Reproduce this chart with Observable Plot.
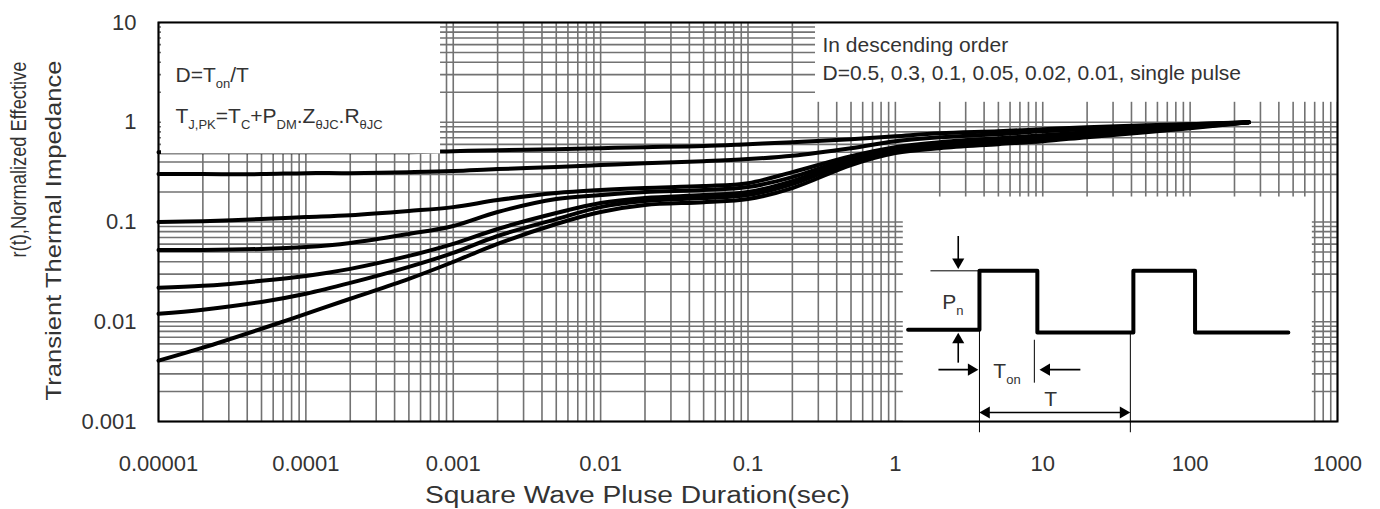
<!DOCTYPE html>
<html><head><meta charset="utf-8">
<script src="https://cdn.jsdelivr.net/npm/d3@7"></script>
<script src="https://cdn.jsdelivr.net/npm/@observablehq/plot@0.6"></script>
<style>
body{margin:0;background:#fff;}
#chart svg{display:block;}
</style></head><body><div id="chart"></div>
<script>
// ---------- data ----------
const durations = [1e-5,2e-5,5e-5,1e-4,2e-4,5e-4,1e-3,2e-3,5e-3,1e-2,2e-2,5e-2,0.1,0.2,0.5,1,2,5,10,20,50,100,250];
const dutyLabels = ["0.5","0.3","0.1","0.05","0.02","0.01","single pulse"];
const rD050 = [0.501,0.501,0.501,0.501,0.501,0.501,0.513,0.525,0.537,0.550,0.562,0.578,0.603,0.631,0.676,0.724,0.776,0.813,0.851,0.891,0.933,0.955,1.0];
const rD030 = [0.302,0.302,0.302,0.309,0.309,0.316,0.324,0.339,0.355,0.372,0.389,0.407,0.427,0.462,0.550,0.646,0.708,0.759,0.813,0.851,0.912,0.955,1.0];
const rD010 = [0.100,0.102,0.107,0.112,0.117,0.129,0.141,0.166,0.195,0.209,0.219,0.229,0.245,0.316,0.457,0.562,0.631,0.692,0.741,0.794,0.871,0.933,1.0];
const rD005 = [0.0525,0.0525,0.0537,0.0562,0.0617,0.0759,0.0912,0.126,0.170,0.186,0.200,0.209,0.224,0.282,0.437,0.550,0.603,0.676,0.724,0.776,0.851,0.912,1.0];
const rD002 = [0.0219,0.0229,0.0257,0.0288,0.0339,0.0457,0.0603,0.0851,0.123,0.155,0.174,0.186,0.200,0.257,0.417,0.525,0.589,0.646,0.708,0.759,0.832,0.891,1.0];
const rD001 = [0.0120,0.0132,0.0158,0.0191,0.0245,0.0355,0.0490,0.0724,0.107,0.141,0.162,0.174,0.186,0.240,0.398,0.513,0.575,0.631,0.676,0.741,0.813,0.891,1.0];
const rSingle = [0.00407,0.00550,0.00851,0.0120,0.0170,0.0269,0.0398,0.0603,0.0955,0.126,0.148,0.158,0.170,0.219,0.372,0.490,0.550,0.603,0.646,0.708,0.794,0.871,1.0];

const xTicks = [1e-5,1e-4,1e-3,1e-2,1e-1,1,10,100,1000];
const xTickLabels = ["0.00001","0.0001","0.001","0.01","0.1","1","10","100","1000"];
const yTicks = [0.001,0.01,0.1,1,10];
const yTickLabels = ["0.001","0.01","0.1","1","10"];

const xTitle = "Square Wave Pluse Duration(sec)";
const yTitle1 = "r(t),Normalized Effective";
const yTitle2 = "Transient Thermal Impedance";
const noteLeft1 = "D=T_{on}/T";
const noteLeft2 = "T_{J,PK}=T_{C}+P_{DM}.Z_{θJC}.R_{θJC}";
const noteRight1 = "In descending order";
const noteRight2 = "D=" + dutyLabels.join(", ");

// white annotation panels (data units)
const panelX1 = [1e-5, 0.274, 1.08];
const panelX2 = [8.2e-4, 1000, 675];
const panelY1 = [0.48, 1.585, 0.001];
const panelY2 = [10, 10, 0.178];

// inset pulse diagram (data units)
const waveT = [1.22, 3.72, 3.72, 9.19, 9.19, 41.2, 41.2, 108, 108, 464];
const waveR = [0.0083, 0.0083, 0.0324, 0.0324, 0.0078, 0.0078, 0.0324, 0.0324, 0.0078, 0.0078];
const guideX1 = [1.73, 3.72, 8.77, 39.3];
const guideY1 = [0.0324, 0.0083, 0.0066, 0.0078];
const guideX2 = [3.72, 3.72, 8.77, 39.3];
const guideY2 = [0.0324, 0.00078, 0.00245, 0.00078];
const arrowX1 = [2.67, 2.67, 1.96, 18.0, 3.89];
const arrowY1 = [0.0724, 0.00389, 0.00331, 0.00331, 0.00123];
const arrowX2 = [2.67, 2.67, 3.49, 9.94, 37.5];
const arrowY2 = [0.0363, 0.00724, 0.00331, 0.00331, 0.00123];
const headX = [2.67, 2.67, 3.28, 10.6, 4.14, 35.2];
const headY = [0.0398, 0.0066, 0.00331, 0.00331, 0.00123, 0.00123];
const headRot = [180, 0, 90, 270, 270, 90];
const insetLabels = ["P_{n}", "T_{on}", "T"];
const insetLabelX = [2.08, 4.62, 11.3];
const insetLabelY = [0.0155, 0.00316, 0.00166];
const insetLabelCentered = [false, false, true];

// ---------- tables ----------
const seriesR = [rD050, rD030, rD010, rD005, rD002, rD001, rSingle];
const curves = dutyLabels.flatMap((d, i) => seriesR[i].map((r, j) => ({t: durations[j], r, d})));
const panels = panelX1.map((x1, i) => ({x1, x2: panelX2[i], y1: panelY1[i], y2: panelY2[i]}));
const wave = waveT.map((t, i) => ({t, r: waveR[i]}));
const guides = guideX1.map((x1, i) => ({x1, y1: guideY1[i], x2: guideX2[i], y2: guideY2[i]}));
const arrows = arrowX1.map((x1, i) => ({x1, y1: arrowY1[i], x2: arrowX2[i], y2: arrowY2[i]}));
const heads = headX.map((t, i) => ({t, r: headY[i], rot: headRot[i]}));
const insetText = insetLabels.map((s, i) => ({s, t: insetLabelX[i], r: insetLabelY[i], c: insetLabelCentered[i]}));

const xGrid = d3.scaleLog().domain([1e-5, 1000]).ticks();
const yGrid = d3.scaleLog().domain([0.001, 10]).ticks();
const xFmt = new Map(xTicks.map((t, i) => [t, xTickLabels[i]]));
const yFmt = new Map(yTicks.map((t, i) => [t, yTickLabels[i]]));

const FONT = "'Liberation Sans', Arial, sans-serif";
const TXT = "#333";
const note = (s, dx, dy, size) => Plot.text([s], {text: d => d, frameAnchor: "top-left", lineAnchor: "middle", textAnchor: "start", dx, dy, fontSize: size, fill: TXT});

const chart = Plot.plot({
  width: 1380, height: 509,
  marginLeft: 158, marginRight: 43, marginTop: 22, marginBottom: 88,
  x: {type: "log", domain: [1e-5, 1000]},
  y: {type: "log", domain: [0.001, 10]},
  style: {fontFamily: FONT, fontSize: "22px", color: TXT, background: "#fff"},
  marks: [
    Plot.ruleX(xGrid, {stroke: "#727272", strokeWidth: 1.6}),
    Plot.ruleY(yGrid, {stroke: "#727272", strokeWidth: 1.6}),
    Plot.line(curves, {x: "t", y: "r", z: "d", stroke: "#000", strokeWidth: 4, curve: "catmull-rom"}),
    Plot.rect(panels, {x1: "x1", x2: "x2", y1: "y1", y2: "y2", fill: "#fff", insetLeft: 3}),
    Plot.frame({stroke: "#000", strokeWidth: 2}),
    Plot.line(wave, {x: "t", y: "r", stroke: "#000", strokeWidth: 4, strokeLinejoin: "round"}),
    Plot.link(guides, {x1: "x1", y1: "y1", x2: "x2", y2: "y2", stroke: "#000", strokeWidth: 1}),
    Plot.link(arrows, {x1: "x1", y1: "y1", x2: "x2", y2: "y2", stroke: "#000", strokeWidth: 1.6}),
    Plot.dot(heads, {x: "t", y: "r", rotate: "rot", symbol: "triangle", r: 4.5, fill: "#000", stroke: "none"}),
    Plot.text(insetText, {filter: d => !d.c, x: "t", y: "r", text: "s", textAnchor: "start", fontSize: 21, fill: TXT}),
    Plot.text(insetText, {filter: d => d.c, x: "t", y: "r", text: "s", textAnchor: "middle", fontSize: 21, fill: TXT}),
    note(noteLeft1, 17, 53, 21),
    note(noteLeft2, 17, 94, 21),
    note(noteRight1, 664, 23, 21),
    note(noteRight2, 664, 51, 21),
    Plot.text([yTitle1], {text: d => d, frameAnchor: "top-left", lineAnchor: "middle", rotate: -90, textAnchor: "end", dx: -140, dy: 39, fontSize: 22, fill: TXT}),
    Plot.text([yTitle2], {text: d => d, frameAnchor: "top-left", lineAnchor: "middle", rotate: -90, textAnchor: "end", dx: -105, dy: 38, fontSize: 22, fill: TXT}),
    Plot.text([xTitle], {text: d => d, frameAnchor: "bottom-left", lineAnchor: "middle", textAnchor: "middle", dx: 479, dy: 74, fontSize: 23, fill: TXT}),
    Plot.axisX({ticks: xTicks, tickFormat: d => xFmt.get(d), tickSize: 0, tickPadding: 34, label: null, fontSize: 22}),
    Plot.axisY({ticks: yTicks, tickFormat: d => yFmt.get(d), tickSize: 0, tickPadding: 22, label: null, fontSize: 22})
  ]
});
document.getElementById("chart").appendChild(chart);

// stretch long titles to the reference widths
const stretch = new Map([[xTitle, 425], [yTitle1, 196], [yTitle2, 340]]);
chart.querySelectorAll("text").forEach(t => {
  const s = t.textContent;
  if (stretch.has(s)) { t.setAttribute("textLength", stretch.get(s)); t.setAttribute("lengthAdjust", "spacingAndGlyphs"); }
});

// subscripts: "_{...}" -> lowered, smaller tspans
chart.querySelectorAll("text").forEach(t => {
  const els = t.querySelectorAll("tspan").length ? [...t.querySelectorAll("tspan")] : [t];
  els.forEach(el => {
    const s = el.textContent;
    if (!s.includes("_{")) return;
    const fs = parseFloat(getComputedStyle(t).fontSize) || 20;
    const shift = Math.round(fs * 0.3);
    while (el.firstChild) el.removeChild(el.firstChild);
    const re = /_\{([^}]*)\}/g;
    let last = 0, m, lowered = false;
    const add = (txt, sub) => {
      if (!txt) return;
      const ts = document.createElementNS("http://www.w3.org/2000/svg", "tspan");
      ts.textContent = txt;
      if (sub) { ts.setAttribute("font-size", Math.round(fs * 0.62)); if (!lowered) { ts.setAttribute("dy", shift); lowered = true; } }
      else if (lowered) { ts.setAttribute("dy", -shift); lowered = false; }
      el.appendChild(ts);
    };
    while ((m = re.exec(s))) { add(s.slice(last, m.index), false); add(m[1], true); last = re.lastIndex; }
    add(s.slice(last), false);
  });
});
</script></body></html>
